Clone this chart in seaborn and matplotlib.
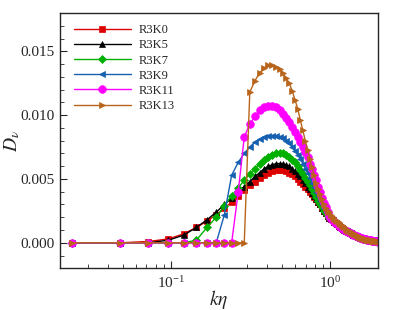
import numpy as np
import pandas as pd
import seaborn as sns
import matplotlib
matplotlib.use("Agg")
import matplotlib.pyplot as plt
from matplotlib.ticker import MultipleLocator, FormatStrFormatter, LogLocator

# wavenumber samples k*eta (one per shell)
k_eta = [0.024 * n for n in range(1, 84)]

# shared decay tail for shells 40..83 (curves merge there)
tail = [0.00210, 0.00198, 0.00186, 0.00175, 0.00164, 0.00154, 0.00144, 0.00135,
        0.00126, 0.00118, 0.00110, 0.00103, 0.00096, 0.00090, 0.00084, 0.00078,
        0.00073, 0.00068, 0.00063, 0.00059, 0.00055, 0.00051, 0.00048, 0.00044,
        0.00041, 0.00038, 0.00036, 0.00033, 0.00031, 0.00028, 0.00026, 0.00024,
        0.00023, 0.00021, 0.00020, 0.00018, 0.00017, 0.00016, 0.00015, 0.00014,
        0.00013, 0.00012, 0.00011, 0.00010]

r3k0 = [0, 0, 0.0001, 0.0003, 0.0007, 0.0012, 0.0017, 0.0022, 0.0027, 0.0032,
        0.0037, 0.0041, 0.0045, 0.0048, 0.0051, 0.0053, 0.0055, 0.0056, 0.0057, 0.0057,
        0.0057, 0.0056, 0.0055, 0.0054, 0.0052, 0.0050, 0.0048, 0.0046, 0.0044, 0.0042,
        0.0040, 0.0038, 0.0036, 0.0034, 0.0032, 0.0030, 0.0027, 0.0025, 0.0023] + tail

r3k5 = [0, 0, 0, 0.0002, 0.0006, 0.0012, 0.0018, 0.0024, 0.0030, 0.0035,
        0.0040, 0.0044, 0.0048, 0.0052, 0.0055, 0.0058, 0.0060, 0.0061, 0.0062, 0.0062,
        0.0062, 0.0061, 0.0060, 0.0058, 0.0056, 0.0054, 0.0052, 0.0049, 0.0047, 0.0044,
        0.0042, 0.0039, 0.0037, 0.0034, 0.0032, 0.0030, 0.0027, 0.0025, 0.0023] + tail

r3k7 = [0, 0, 0, 0, 0, 0.0002, 0.0012, 0.0020, 0.0029, 0.0037,
        0.0043, 0.0049, 0.0054, 0.0058, 0.0062, 0.0065, 0.0067, 0.0069, 0.0070, 0.0070,
        0.0070, 0.0069, 0.0067, 0.0065, 0.0063, 0.0060, 0.0057, 0.0054, 0.0051, 0.0048,
        0.0045, 0.0042, 0.0039, 0.0036, 0.0033, 0.0030, 0.0028, 0.0025, 0.0023] + tail

r3k9 = [0, 0, 0, 0, 0, 0, 0, 0, 0.0022, 0.0053,
        0.0063, 0.0070, 0.0075, 0.0079, 0.0081, 0.0083, 0.0084, 0.0084, 0.0084, 0.0083,
        0.0082, 0.0080, 0.0078, 0.0075, 0.0072, 0.0069, 0.0066, 0.0062, 0.0058, 0.0055,
        0.0051, 0.0047, 0.0044, 0.0040, 0.0037, 0.0033, 0.0030, 0.0027, 0.0024] + tail

r3k11 = [0, 0, 0, 0, 0, 0, 0, 0, 0, 0,
         0.0040, 0.0083, 0.0093, 0.0099, 0.0104, 0.0106, 0.0107, 0.0107, 0.0106, 0.0104,
         0.0101, 0.0098, 0.0095, 0.0091, 0.0087, 0.0083, 0.0079, 0.0075, 0.0071, 0.0067,
         0.0062, 0.0058, 0.0053, 0.0049, 0.0044, 0.0040, 0.0035, 0.0031, 0.0028,
         0.0024, 0.0021, 0.0019] + tail[3:]

r3k13 = [0, 0, 0, 0, 0, 0, 0, 0, 0, 0,
         0, 0, 0.0118, 0.0127, 0.0133, 0.0137, 0.0139, 0.0139, 0.0138, 0.0136,
         0.0133, 0.0129, 0.0125, 0.0119, 0.0112, 0.0105, 0.0096, 0.0088, 0.0080, 0.0073,
         0.0066, 0.0059, 0.0053, 0.0047, 0.0042, 0.0038, 0.0034, 0.0030, 0.0027,
         0.0025, 0.0024, 0.0022, 0.0020, 0.0019, 0.0018, 0.0017, 0.0016, 0.0015, 0.0014,
         0.0013, 0.0012, 0.0011, 0.0010, 0.00095, 0.00090, 0.00085, 0.00080, 0.00074,
         0.00068, 0.00063, 0.00058, 0.00053, 0.00048, 0.00044, 0.00040, 0.00037,
         0.00034, 0.00031, 0.00029, 0.00027] + tail[31:]

labels = ["R3K0", "R3K5", "R3K7", "R3K9", "R3K11", "R3K13"]
series = [r3k0, r3k5, r3k7, r3k9, r3k11, r3k13]
colors = ["#dd0000", "#000000", "#00b000", "#1560b0", "#ff00ff", "#b8651b"]
markers = ["s", "^", "D", "<", "o", ">"]
msizes = [5, 5, 4.5, 5, 5.5, 5]

sns.set_style("ticks")
plt.rcParams["font.family"] = ["Liberation Serif", "DejaVu Serif"]
plt.rcParams["mathtext.fontset"] = "stix"

fig = plt.figure(figsize=(3.99, 3.10), dpi=100)
ax = fig.add_axes([0.150, 0.1345, 0.798, 0.8235])

for lab, vals, c, m, ms in zip(labels, series, colors, markers, msizes):
    df = pd.DataFrame({"k": k_eta, "D": vals})
    sns.lineplot(data=df, x="k", y="D", ax=ax, color=c, marker=m,
                 markersize=ms, markeredgecolor=c, markeredgewidth=0.5,
                 linewidth=1.0, label=lab, sort=False, estimator=None)

ax.set_xscale("log")
ax.set_xlim(0.02, 2.0)
ax.set_ylim(-0.002, 0.018)
ax.yaxis.set_major_locator(MultipleLocator(0.005))
ax.yaxis.set_minor_locator(MultipleLocator(0.001))
ax.yaxis.set_major_formatter(FormatStrFormatter("%.3f"))
ax.xaxis.set_minor_locator(LogLocator(base=10, subs=np.arange(2, 10)))
ax.tick_params(axis="both", which="both", direction="in", labelsize=11,
               top=False, right=False)
ax.tick_params(axis="x", which="major", pad=5)
ax.tick_params(which="major", length=5, width=0.8)
ax.tick_params(which="minor", length=3, width=0.6)
for sp in ax.spines.values():
    sp.set_linewidth(1.0)

ax.set_xlabel(r"$k\eta$", fontsize=14, labelpad=-2)
ax.set_ylabel(r"$D_\nu$", fontsize=14)
ax.yaxis.set_label_coords(-0.118, 0.5)

ax.legend(loc="upper left", bbox_to_anchor=(0.02, 0.985), frameon=False,
          fontsize=9, handlelength=4.6, handletextpad=0.6, labelspacing=0.25,
          borderaxespad=0.2)

fig.savefig("out.png", dpi=100)
